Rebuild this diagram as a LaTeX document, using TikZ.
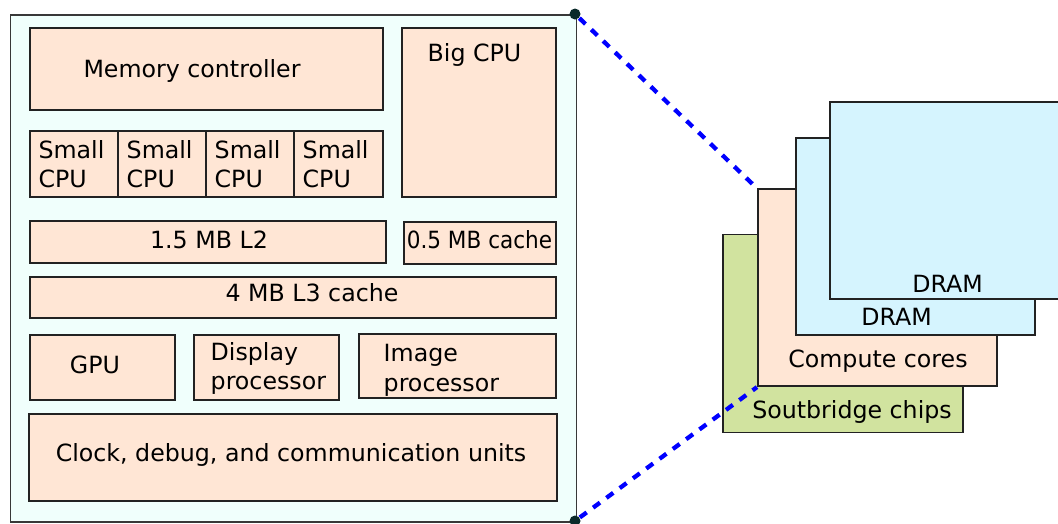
\documentclass[tikz,border=0pt]{standalone}
\usepackage{fontspec}
\usepackage{graphicx}
\setmainfont{DejaVu Sans}
\definecolor{outerfill}{HTML}{F0FFFC}
\definecolor{peach}{HTML}{FFE6D5}
\definecolor{sbgreen}{HTML}{D1E39F}
\definecolor{dramblue}{HTML}{D5F4FE}
\definecolor{edge}{HTML}{222222}
\definecolor{dotc}{HTML}{0A2A2A}
\tikzset{
  box/.style={draw=edge, line width=1.8pt, fill=peach, rectangle, inner sep=0pt, anchor=north west},
  lbl/.style={anchor=base, inner sep=0pt, font=\fontsize{23.7}{29.5}\selectfont, text=black},
  lbll/.style={anchor=base west, inner sep=0pt, font=\fontsize{23.7}{29.5}\selectfont, text=black},
  zoomline/.style={draw=blue, line width=4.3pt, dash pattern=on 8.5pt off 8pt, dash phase=-6pt},
  dot/.style={circle, fill=dotc, inner sep=0pt, minimum size=11pt}
}
\newcommand{\boxat}[6][]{\node[box,#1, minimum width=#4pt-#2pt, minimum height=#5pt-#3pt] (#6) at (#2,#3) {};}
\begin{document}
\begin{tikzpicture}[x=1pt,y=-1pt]
\useasboundingbox (0,0) rectangle (1058,523);
\clip (0,0) rectangle (1058,523);
% outer chip
\node[draw=edge!90, line width=1.7pt, fill=outerfill, rectangle, inner sep=0pt, anchor=north west,
      minimum width=566pt, minimum height=507pt] (chip) at (9.5,14) {};
% blocks
\boxat{29}{27}{382}{109}{mc}
\node[lbl] (mct) at (192,77.7) {Memory controller};
\boxat{401}{27}{555}{196}{big}
\node[lbl] (bigt) at (474.5,61) {Big CPU};
\boxat{29}{130}{117}{196}{s1}
\boxat{117}{130}{205}{196}{s2}
\boxat{205}{130}{293}{196}{s3}
\boxat{293}{130}{382}{196}{s4}
\node[lbll] (s1a) at (38.3,158.3) {Small};
\node[lbll] (s1b) at (38.3,187.7) {CPU};
\node[lbll] (s2a) at (126.5,158.3) {Small};
\node[lbll] (s2b) at (126.5,187.7) {CPU};
\node[lbll] (s3a) at (214.5,158.3) {Small};
\node[lbll] (s3b) at (214.5,187.7) {CPU};
\node[lbll] (s4a) at (302.5,158.3) {Small};
\node[lbll] (s4b) at (302.5,187.7) {CPU};
\boxat{29}{220}{385}{262}{l2}
\node[lbl] (l2t) at (209,248.3) {1.5 MB L2};
\boxat{403}{221}{555}{263}{c05}
\node[lbl] (c05t) at (479.5,248.3) {\scalebox{0.91}[1]{0.5 MB cache}};
\boxat{29}{276}{555}{317}{l3}
\node[lbl] (l3t) at (312,301) {4 MB L3 cache};
\boxat{29}{334}{174}{399}{gpu}
\node[lbl] (gput) at (95,373) {GPU};
\boxat{193}{334}{338}{399}{disp}
\node[lbll] (dispa) at (210.5,360) {Display};
\node[lbll] (dispb) at (210.5,389.5) {processor};
\boxat{358}{333}{555}{397}{img}
\node[lbll] (imga) at (383.5,361.5) {Image};
\node[lbll] (imgb) at (383.5,391) {processor};
\boxat{28}{413}{556}{500}{clk}
\node[lbl] (clkt) at (291,461) {Clock, debug, and communication units};
% dots
\node[dot] (dtop) at (575,14) {};
\node[dot] (dbot) at (575,521) {};
% right stack
\boxat[fill=sbgreen]{722}{233.5}{962}{431.5}{sb}
\node[lbl] (sbt) at (852,418) {Soutbridge chips};
\boxat{757}{188.3}{996}{385.3}{cc}
\node[lbl] (cct) at (878,367.7) {Compute cores};
\boxat[fill=dramblue]{795}{136.7}{1034}{334}{dram1}
\node[lbl] (dram1t) at (896.5,325) {DRAM};
\boxat[fill=dramblue]{829}{100.7}{1075}{298}{dram2}
\node[lbl] (dram2t) at (947.5,292) {DRAM};
% zoom lines
\draw[zoomline] (dtop.center) -- (cc.north west);
\draw[zoomline] (dbot.center) -- (cc.south west);
\end{tikzpicture}
\end{document}
